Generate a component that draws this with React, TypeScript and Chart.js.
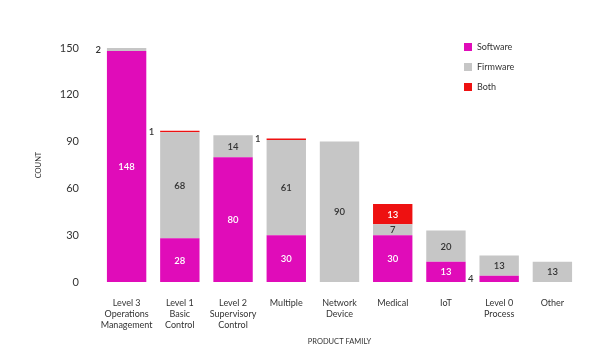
import React, { useEffect, useRef } from "react";
import { Chart, registerables } from "chart.js";

Chart.register(...registerables);

const categories: string[][] = [
  ["Level 3", "Operations", "Management"],
  ["Level 1", "Basic", "Control"],
  ["Level 2", "Supervisory", "Control"],
  ["Multiple"],
  ["Network", "Device"],
  ["Medical"],
  ["IoT"],
  ["Level 0", "Process"],
  ["Other"],
];
const software = [148, 28, 80, 30, 0, 30, 13, 4, 0];
const firmware = [2, 68, 14, 61, 90, 7, 20, 13, 13];
const both = [0, 1, 0, 1, 0, 13, 0, 0, 0];
const yTicks = [0, 30, 60, 90, 120, 150];

const FONT = "Lato, 'Noto Sans', sans-serif";
const C_SOFT = "#E00CB9";
const C_FIRM = "#C6C6C6";
const C_BOTH = "#EE1111";

const labelPlugin = {
  id: "segLabels",
  afterDatasetsDraw(chart: any) {
    const ctx = chart.ctx;
    ctx.save();
    ctx.font = `600 9.5px ${FONT}`;
    ctx.textBaseline = "middle";
    chart.data.datasets.forEach((ds: any, di: number) => {
      const meta = chart.getDatasetMeta(di);
      meta.data.forEach((bar: any, i: number) => {
        const v = ds.data[i];
        if (!v) return;
        const top = Math.min(bar.y, bar.base);
        const bot = Math.max(bar.y, bar.base);
        const cy = (top + bot) / 2;
        if (v >= 5) {
          ctx.textAlign = "center";
          ctx.fillStyle = di === 1 ? "#333333" : "#ffffff";
          ctx.fillText(String(v), bar.x, cy + 0.5);
        } else {
          ctx.textAlign = "right";
          ctx.fillStyle = "#333333";
          ctx.fillText(String(v), bar.x - bar.width / 2 - 6, cy);
        }
      });
    });
    // legend
    const items = [
      ["Software", C_SOFT],
      ["Firmware", C_FIRM],
      ["Both", C_BOTH],
    ];
    ctx.font = `9px ${FONT}`;
    ctx.textAlign = "left";
    items.forEach(([t, c], k) => {
      const y = 47 + k * 20;
      ctx.fillStyle = c;
      ctx.fillRect(464, y - 4, 8, 8);
      ctx.fillStyle = "#333333";
      ctx.fillText(t, 477, y);
    });
    ctx.restore();
  },
};

export default function App() {
  const ref = useRef<HTMLCanvasElement>(null);
  useEffect(() => {
    const chart = new Chart(ref.current!, {
      type: "bar",
      data: {
        labels: categories as any,
        datasets: [
          { label: "Software", data: software, backgroundColor: C_SOFT },
          { label: "Firmware", data: firmware, backgroundColor: C_FIRM },
          { label: "Both", data: both, backgroundColor: C_BOTH },
        ],
      },
      options: {
        animation: false,
        responsive: false,
        maintainAspectRatio: false,
        layout: { padding: { top: 48, right: 25, left: 30, bottom: 0 } },
        plugins: { legend: { display: false }, tooltip: { enabled: false } },
        datasets: { bar: { categoryPercentage: 1, barPercentage: 0.74 } } as any,
        scales: {
          x: {
            stacked: true,
            grid: { display: false },
            border: { display: false },
            ticks: {
              color: "#333333",
              font: { family: FONT, size: 9 },
              padding: 8,
              maxRotation: 0,
              autoSkip: false,
            },
            title: {
              display: true,
              text: "PRODUCT FAMILY",
              color: "#333333",
              font: { family: FONT, size: 7.5 },
              padding: { top: 0, bottom: 7 },
            },
            afterFit: (s: any) => {
              s.height = 71;
            },
          },
          y: {
            stacked: true,
            min: 0,
            max: 150,
            grid: { display: false },
            border: { display: false },
            afterBuildTicks: (s: any) => {
              s.ticks = yTicks.map((v) => ({ value: v }));
            },
            ticks: {
              color: "#333333",
              font: { family: FONT, size: 11 },
              padding: 13,
            },
            title: {
              display: true,
              text: "COUNT",
              color: "#333333",
              font: { family: FONT, size: 7.5 },
              padding: { top: 4, bottom: 4 },
            },
            afterFit: (s: any) => {
              s.width = 70;
            },
          },
        },
      },
      plugins: [labelPlugin],
    });
    return () => chart.destroy();
  }, []);
  return (
    <div style={{ position: "absolute", left: 0, top: 0, width: 604, height: 353, background: "#fff" }}>
      <canvas ref={ref} width={604} height={353} style={{ width: 604, height: 353 }} />
    </div>
  );
}
